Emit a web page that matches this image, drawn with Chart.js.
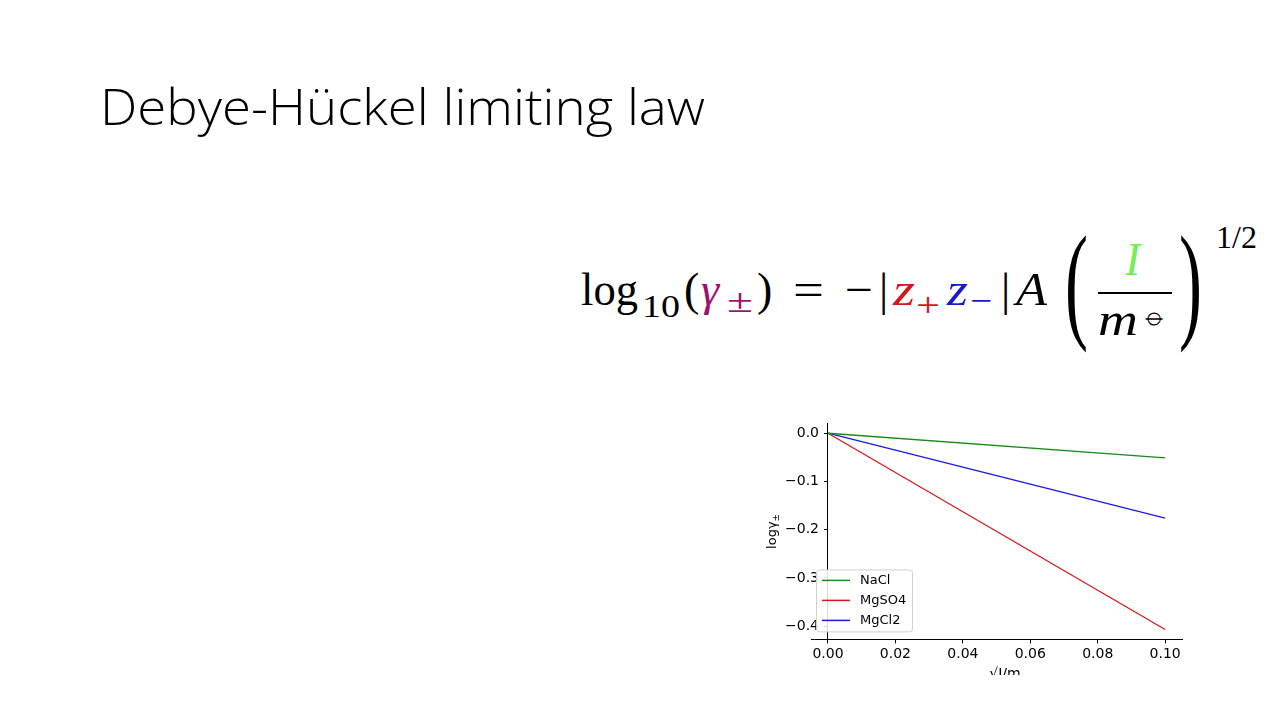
<!DOCTYPE html>
<html>
<head>
<meta charset="utf-8">
<script src="https://cdn.jsdelivr.net/npm/chart.js@4.4.1/dist/chart.umd.min.js"></script>
<style>
  html, body { margin: 0; padding: 0; background: #fff; width: 1280px; height: 720px; overflow: hidden; }
  #slide { position: absolute; left: 0; top: 0; }
  #plot { position: absolute; left: 760px; top: 410px; width: 430px; height: 265px; overflow: hidden; }
  #plot canvas { display: block; }
</style>
</head>
<body>
<svg id="slide" width="1280" height="720">
  <text x="100" y="125" font-family="Open Sans" font-weight="300" font-size="49" textLength="605" lengthAdjust="spacingAndGlyphs">Debye-Hückel limiting law</text>
  <g font-family="Liberation Serif" font-size="46" fill="#000">
    <text x="581" y="305" textLength="57" lengthAdjust="spacingAndGlyphs">log</text>
    <text x="642" y="317" font-size="32" textLength="38" lengthAdjust="spacingAndGlyphs">10</text>
    <text x="684" y="305">(</text>
    <text x="701" y="305" font-style="italic" fill="#a01070">γ</text>
    <text x="727" y="312" font-size="34" fill="#a01070" textLength="26" lengthAdjust="spacingAndGlyphs">±</text>
    <text x="757" y="305">)</text>
    <text x="793" y="305" textLength="31" lengthAdjust="spacingAndGlyphs">=</text>
    <text x="845" y="305" textLength="28" lengthAdjust="spacingAndGlyphs">−</text>
    <text x="879" y="305">|</text>
    <text x="893" y="305" font-style="italic" fill="#d01822" textLength="22" lengthAdjust="spacingAndGlyphs">z</text>
    <text x="916" y="316" font-size="34" fill="#d01822" textLength="24" lengthAdjust="spacingAndGlyphs">+</text>
    <text x="947" y="305" font-style="italic" fill="#1a1acc" textLength="21" lengthAdjust="spacingAndGlyphs">z</text>
    <text x="970" y="312" font-size="34" fill="#1a1acc" textLength="22" lengthAdjust="spacingAndGlyphs">−</text>
    <text x="1001" y="305">|</text>
    <text x="1016" y="305" font-style="italic" textLength="31" lengthAdjust="spacingAndGlyphs">A</text>
    <text transform="translate(1065,325) scale(1.5,2.8)">(</text>
    <text x="1125" y="275" font-style="italic" fill="#77ee55">I</text>
    <line x1="1098" y1="293" x2="1172" y2="293" stroke="#000" stroke-width="2"/>
    <text x="1098" y="335" font-style="italic" textLength="40" lengthAdjust="spacingAndGlyphs">m</text>
    <text x="1142" y="325" font-size="30" font-family="DejaVu Sans">⦵</text>
    <text transform="translate(1179,325) scale(1.5,2.8)">)</text>
    <text x="1216" y="248" font-size="32">1/2</text>
  </g>
</svg>
<div id="plot"><canvas id="c" width="430" height="285"></canvas></div>
<script>
// data (straight lines from the origin)
const xValues = [0, 0.1];
const naclValues = [0, -0.051];
const mgso4Values = [0, -0.407];
const mgcl2Values = [0, -0.176];
const seriesNames = ['NaCl', 'MgSO4', 'MgCl2'];
const seriesColors = ['#1a8a1a', '#d41a1a', '#1a1ae0'];
const xTicks = [0, 0.02, 0.04, 0.06, 0.08, 0.10];
const yTicks = [0, -0.1, -0.2, -0.3, -0.4];

const pts = vals => vals.map((v, i) => ({ x: xValues[i], y: v }));
const tickFont = { family: 'DejaVu Sans', size: 14 };

// bottom spine continues a bit left of the y spine (matplotlib x margin)
const spineExt = {
  id: 'spineExt',
  afterDraw(chart) {
    const { ctx, chartArea } = chart;
    const y = Math.round(chartArea.bottom) + 0.5;
    ctx.save();
    ctx.strokeStyle = '#000';
    ctx.lineWidth = 1;
    ctx.beginPath();
    ctx.moveTo(chartArea.left - 17, y);
    ctx.lineTo(chartArea.left, y);
    ctx.stroke();
    ctx.restore();
  }
};

// legend drawn inside the axes, lower left, like matplotlib
const legendBox = {
  id: 'legendBox',
  afterDraw(chart) {
    const { ctx, chartArea } = chart;
    const w = 96, h = 62;
    const left = chartArea.left - 12;
    const top = chartArea.bottom - 8 - h;
    ctx.save();
    ctx.fillStyle = 'rgba(255,255,255,0.85)';
    ctx.strokeStyle = '#d0d0d0';
    ctx.lineWidth = 1;
    ctx.beginPath();
    ctx.roundRect(left + 0.5, top + 0.5, w, h, 3);
    ctx.fill();
    ctx.stroke();
    ctx.font = '13px "DejaVu Sans"';
    ctx.textBaseline = 'middle';
    chart.data.datasets.forEach((ds, i) => {
      const y = top + 11 + i * 20;
      ctx.strokeStyle = ds.borderColor;
      ctx.lineWidth = 1.5;
      ctx.beginPath();
      ctx.moveTo(left + 6, y);
      ctx.lineTo(left + 34, y);
      ctx.stroke();
      ctx.fillStyle = '#000';
      ctx.fillText(ds.label, left + 44, y);
    });
    ctx.restore();
  }
};

// rotated y label "logγ±"
const yTitle = {
  id: 'yTitle',
  afterDraw(chart) {
    const { ctx, chartArea } = chart;
    const cy = (chartArea.top + chartArea.bottom) / 2;
    ctx.save();
    ctx.translate(16, cy);
    ctx.rotate(-Math.PI / 2);
    ctx.fillStyle = '#000';
    ctx.font = '13px "DejaVu Sans"';
    const main = 'logγ';
    const w1 = ctx.measureText(main).width;
    ctx.font = '9px "DejaVu Sans"';
    const w2 = ctx.measureText('±').width;
    const x0 = -(w1 + w2) / 2;
    ctx.font = '13px "DejaVu Sans"';
    ctx.fillText(main, x0, 0);
    ctx.font = '9px "DejaVu Sans"';
    ctx.fillText('±', x0 + w1, 3);
    ctx.restore();
  }
};

new Chart(document.getElementById('c'), {
  type: 'line',
  data: {
    datasets: [
      { label: seriesNames[0], data: pts(naclValues), borderColor: seriesColors[0] },
      { label: seriesNames[1], data: pts(mgso4Values), borderColor: seriesColors[1] },
      { label: seriesNames[2], data: pts(mgcl2Values), borderColor: seriesColors[2] },
    ],
  },
  options: {
    responsive: false,
    animation: false,
    events: [],
    layout: { padding: { left: 20, right: 8, top: 0, bottom: 12 } },
    elements: {
      line: { borderWidth: 1.3, tension: 0, fill: false },
      point: { radius: 0 },
    },
    plugins: { legend: { display: false }, tooltip: { enabled: false } },
    scales: {
      x: {
        type: 'linear',
        position: 'bottom',
        min: 0,
        max: 0.105,
        afterBuildTicks: s => { s.ticks = xTicks.map(v => ({ value: v })); },
        ticks: { color: '#000', font: tickFont, padding: 3, maxRotation: 0, callback: v => v.toFixed(2) },
        grid: { display: true, drawOnChartArea: false, drawTicks: true, tickLength: 4, color: '#000' },
        border: { display: true, color: '#000', width: 1 },
        title: { display: true, text: '√I/m', color: '#000', font: tickFont, padding: { top: 0, bottom: 0 } },
      },
      y: {
        type: 'linear',
        position: 'left',
        min: -0.4274,
        max: 0.0204,
        afterBuildTicks: s => { s.ticks = yTicks.map(v => ({ value: v })); },
        ticks: { color: '#000', font: tickFont, padding: 5, callback: v => v.toFixed(1).replace('-', '−') },
        grid: { display: true, drawOnChartArea: false, drawTicks: true, tickLength: 4, color: '#000' },
        border: { display: true, color: '#000', width: 1 },
      },
    },
  },
  plugins: [spineExt, legendBox, yTitle],
});
</script>
</body>
</html>
